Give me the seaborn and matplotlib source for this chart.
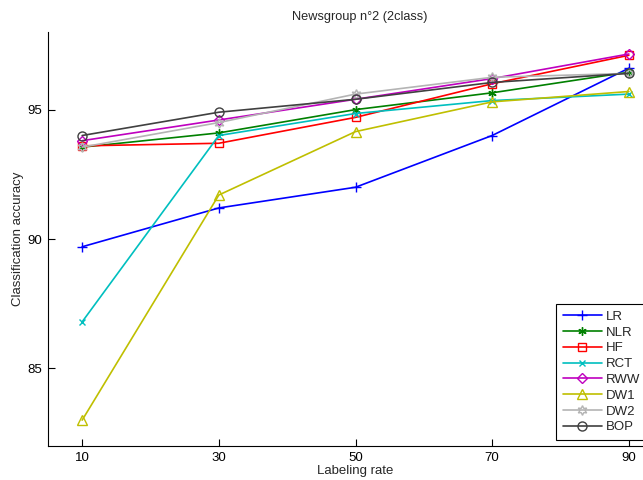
import pandas as pd
import matplotlib
matplotlib.use("Agg")
import matplotlib.pyplot as plt
import seaborn as sns

# === DATA ===
rates = [10, 30, 50, 70, 90]
lr = [89.7, 91.2, 92.0, 94.0, 96.6]
nlr = [93.55, 94.1, 95.0, 95.65, 96.45]
hf = [93.6, 93.7, 94.7, 96.0, 97.1]
rct = [86.8, 94.0, 94.85, 95.35, 95.6]
rww = [93.8, 94.6, 95.4, 96.2, 97.15]
dw1 = [83.0, 91.7, 94.15, 95.3, 95.7]
dw2 = [93.55, 94.5, 95.6, 96.25, 96.4]
bop = [94.0, 94.9, 95.4, 96.05, 96.4]

methods = ["LR", "NLR", "HF", "RCT", "RWW", "DW1", "DW2", "BOP"]
values = [lr, nlr, hf, rct, rww, dw1, dw2, bop]

# === STYLE ===
colors = ["#0000ff", "#008000", "#ff0000", "#00bfbf", "#bf00bf", "#bfbf00", "#b4b4b4", "#404040"]
markers = ["+", (6, 2, 0), "s", "x", "D", "^", (6, 1, 0), "o"]
msizes = [7, 6, 5.5, 5, 5.5, 7, 7, 6.5]

sns.set_theme(style="white")
plt.rcParams["font.family"] = ["Liberation Sans", "DejaVu Sans"]
plt.rcParams["font.size"] = 9.5

df = pd.DataFrame({
    "rate": rates * len(methods),
    "acc": [v for vals in values for v in vals],
    "method": [m for m in methods for _ in rates],
})

fig = plt.figure(figsize=(6.43, 4.8), dpi=100)
ax = fig.add_axes([48 / 643, 34 / 480, (663 - 48) / 643, (446 - 32) / 480])

for m, c, mk, ms in zip(methods, colors, markers, msizes):
    sns.lineplot(data=df[df["method"] == m], x="rate", y="acc", ax=ax,
                 color=c, marker=mk, markersize=ms, fillstyle="none",
                 markeredgecolor=c, markeredgewidth=1, linewidth=1.2, label=m)

ax.set_xlim(5, 95)
ax.set_ylim(82, 98)
ax.set_xticks(rates)
ax.set_yticks([85, 90, 95])
ax.tick_params(direction="in", length=5, width=0.8, labelsize=9.5, colors="black",
               bottom=True, left=True, pad=4)
sns.despine(ax=ax)
for s in ["left", "bottom"]:
    ax.spines[s].set_color("black")
    ax.spines[s].set_linewidth(0.8)

ax.set_xlabel("Labeling rate", fontsize=9.5, labelpad=1)
ax.set_ylabel("Classification accuracy", fontsize=9.5, labelpad=3)
fig.text(360 / 643, 1 - 17 / 480, "Newsgroup n°2 (2class)", ha="center", va="center", fontsize=9.2)

leg = ax.legend(loc="lower left", bbox_to_anchor=(556 / 643, 40 / 480),
                bbox_transform=fig.transFigure, borderaxespad=0, fancybox=False,
                framealpha=1, edgecolor="black", fontsize=9.5, handlelength=3.0,
                labelspacing=0.27, borderpad=0.5, handletextpad=0.3)
leg.get_frame().set_linewidth(0.8)

fig.savefig("out.png", dpi=100)
